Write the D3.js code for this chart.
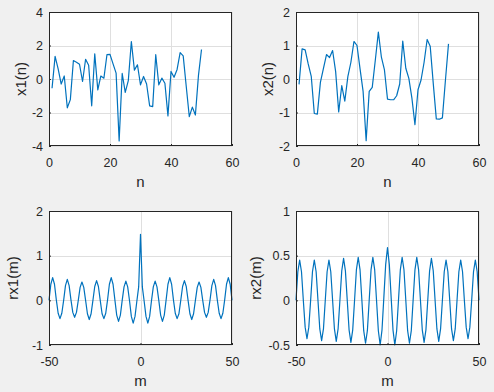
<!DOCTYPE html>
<html><head><meta charset="utf-8">
<script src="https://cdn.jsdelivr.net/npm/d3@7"></script>
<style>
html,body{margin:0;padding:0;background:#f0f0f0;}
svg{display:block;}
text{font-family:"Liberation Sans",Arial,Helvetica,sans-serif;fill:#262626;}
</style></head>
<body><svg id="c" width="494" height="392"></svg>
<script>
// ---- data ----
const n = d3.range(1, 51);
const x1 = [-0.55,1.35,0.6,-0.3,0.18,-1.72,-1.23,1.1,1.0,0.88,
  -0.15,1.18,0.82,-1.6,1.5,-0.65,0.18,0.05,1.45,1.47,
  0.9,0.35,-3.7,0.33,-0.8,-0.1,2.24,0.53,0.85,-0.35,
  0.15,-0.3,-1.6,-1.65,1.45,-0.35,0.05,-0.25,-2.2,0.45,
  0.1,0.57,1.58,1.38,-0.45,-2.25,-1.68,-2.15,0.2,1.76];
const x2 = [-0.16,0.9,0.87,0.45,0.08,-1.03,-1.05,-0.1,0.32,0.73,
  0.64,0.85,0.22,-0.98,-0.2,-0.66,0.07,0.5,1.12,1.0,
  0.3,-0.37,-1.84,-0.37,-0.25,0.56,1.4,0.65,0.27,-0.6,
  -0.62,-0.62,-0.5,-0.15,1.13,0.32,0.02,-0.57,-1.36,-0.32,
  -0.03,0.5,1.18,0.98,-0.13,-1.19,-1.2,-1.16,-0.03,1.05];
const m = d3.range(-50, 51);
const rx1 = [0.00,0.36,0.51,0.36,0.01,-0.29,-0.41,-0.29,0.00,0.33,
  0.47,0.33,0.01,-0.27,-0.38,-0.27,0.00,0.29,0.41,0.29,
  0.00,-0.30,-0.43,-0.30,0.00,0.31,0.44,0.31,0.00,-0.30,
  -0.41,-0.29,0.01,0.36,0.51,0.36,0.01,-0.33,-0.47,-0.33,
  0.00,0.30,0.43,0.30,-0.01,-0.36,-0.51,-0.36,-0.02,0.30,
  1.48,
  0.30,-0.02,-0.36,-0.51,-0.36,-0.01,0.30,0.43,0.30,0.00,
  -0.33,-0.47,-0.33,0.01,0.36,0.51,0.36,0.01,-0.29,-0.41,
  -0.30,0.00,0.31,0.44,0.31,0.00,-0.30,-0.43,-0.30,0.00,
  0.29,0.41,0.29,0.00,-0.27,-0.38,-0.27,0.01,0.33,0.47,
  0.33,0.00,-0.29,-0.41,-0.29,0.01,0.36,0.51,0.36,0.00];
const rx2 = [0.00,0.32,0.45,0.32,0.00,-0.30,-0.43,-0.30,0.00,0.32,
  0.45,0.32,0.00,-0.32,-0.45,-0.32,0.00,0.32,0.45,0.32,
  0.00,-0.32,-0.46,-0.32,0.00,0.33,0.47,0.33,0.00,-0.33,
  -0.47,-0.33,0.00,0.34,0.48,0.34,0.00,-0.34,-0.48,-0.34,
  0.00,0.34,0.48,0.34,0.00,-0.34,-0.50,-0.33,0.03,0.40,
  0.59,
  0.40,0.03,-0.33,-0.50,-0.34,0.00,0.34,0.48,0.34,0.00,
  -0.34,-0.48,-0.34,0.00,0.34,0.48,0.34,0.00,-0.33,-0.47,
  -0.33,0.00,0.33,0.47,0.33,0.00,-0.32,-0.46,-0.32,0.00,
  0.32,0.45,0.32,0.00,-0.32,-0.45,-0.32,0.00,0.32,0.45,
  0.32,0.00,-0.30,-0.43,-0.30,0.00,0.32,0.45,0.32,0.00];

const xTicksN = [0, 20, 40, 60];
const xTicksM = [-50, 0, 50];
const yTicks1 = [-4, -2, 0, 2, 4];
const yTicks2 = [-2, -1, 0, 1, 2];
const yTicks3 = [-1, 0, 1, 2];
const yTicks4 = [-0.5, 0, 0.5, 1];

const panels = [
  {xs:n, ys:x1, xd:[0,60], yd:[-4,4], xt:xTicksN, yt:yTicks1, xl:"n", yl:"x1(n)", left:49, top:12, ylx:21},
  {xs:n, ys:x2, xd:[0,60], yd:[-2,2], xt:xTicksN, yt:yTicks2, xl:"n", yl:"x2(n)", left:296, top:12, ylx:268},
  {xs:m, ys:rx1, xd:[-50,50], yd:[-1,2], xt:xTicksM, yt:yTicks3, xl:"m", yl:"rx1(m)", left:49, top:211, ylx:13},
  {xs:m, ys:rx2, xd:[-50,50], yd:[-0.5,1], xt:xTicksM, yt:yTicks4, xl:"m", yl:"rx2(m)", left:296, top:211, ylx:256}
];
const W = 183, H = 134;
const svg = d3.select("#c");
const fmt = v => String(v);

panels.forEach(p => {
  const x = d3.scaleLinear().domain(p.xd).range([p.left, p.left + W]);
  const y = d3.scaleLinear().domain(p.yd).range([p.top + H, p.top]);
  const g = svg.append("g");
  g.append("rect").attr("x", p.left).attr("y", p.top).attr("width", W).attr("height", H).attr("fill", "#fff");
  // grid
  g.selectAll(".gx").data(p.xt).join("line")
    .attr("x1", d => Math.round(x(d)) + 0.5).attr("x2", d => Math.round(x(d)) + 0.5)
    .attr("y1", p.top).attr("y2", p.top + H).attr("stroke", "#dfdfdf").attr("stroke-width", 1);
  g.selectAll(".gy").data(p.yt).join("line")
    .attr("y1", d => Math.round(y(d)) + 0.5).attr("y2", d => Math.round(y(d)) + 0.5)
    .attr("x1", p.left).attr("x2", p.left + W).attr("stroke", "#dfdfdf").attr("stroke-width", 1);
  // line
  const line = d3.line().x((d, i) => x(p.xs[i])).y(d => y(d));
  g.append("path").datum(p.ys).attr("d", line).attr("fill", "none")
    .attr("stroke", "#0072bd").attr("stroke-width", 1.2).attr("stroke-linejoin", "round");
  // axes
  const ax = g.append("g").attr("transform", `translate(0,${p.top + H})`)
    .call(d3.axisBottom(x).tickValues(p.xt).tickFormat(fmt).tickSizeInner(-2).tickSizeOuter(0).tickPadding(12));
  ax.select(".domain").remove();
  ax.selectAll("text").attr("font-size", 12.5).attr("fill", "#262626").style("font-family", "'Liberation Sans',Arial,sans-serif");
  ax.selectAll("line").attr("stroke", "#262626");
  const ay = g.append("g").attr("transform", `translate(${p.left},0)`)
    .call(d3.axisLeft(y).tickValues(p.yt).tickFormat(fmt).tickSizeInner(-2).tickSizeOuter(0).tickPadding(6));
  ay.select(".domain").remove();
  ay.selectAll("text").attr("font-size", 12.5).attr("fill", "#262626").style("font-family", "'Liberation Sans',Arial,sans-serif");
  ay.selectAll("line").attr("stroke", "#262626");
  // box
  g.append("rect").attr("x", p.left + 0.5).attr("y", p.top + 0.5).attr("width", W - 1).attr("height", H - 1)
    .attr("fill", "none").attr("stroke", "#262626").attr("stroke-width", 1);
  // labels
  g.append("text").attr("x", p.left + W / 2).attr("y", p.top + H + 41).attr("text-anchor", "middle")
    .attr("font-size", 15).text(p.xl);
  g.append("text").attr("transform", `translate(${p.ylx},${p.top + H / 2}) rotate(-90)`)
    .attr("text-anchor", "middle").attr("dy", "0.35em").attr("font-size", 15).text(p.yl);
});
</script></body></html>
